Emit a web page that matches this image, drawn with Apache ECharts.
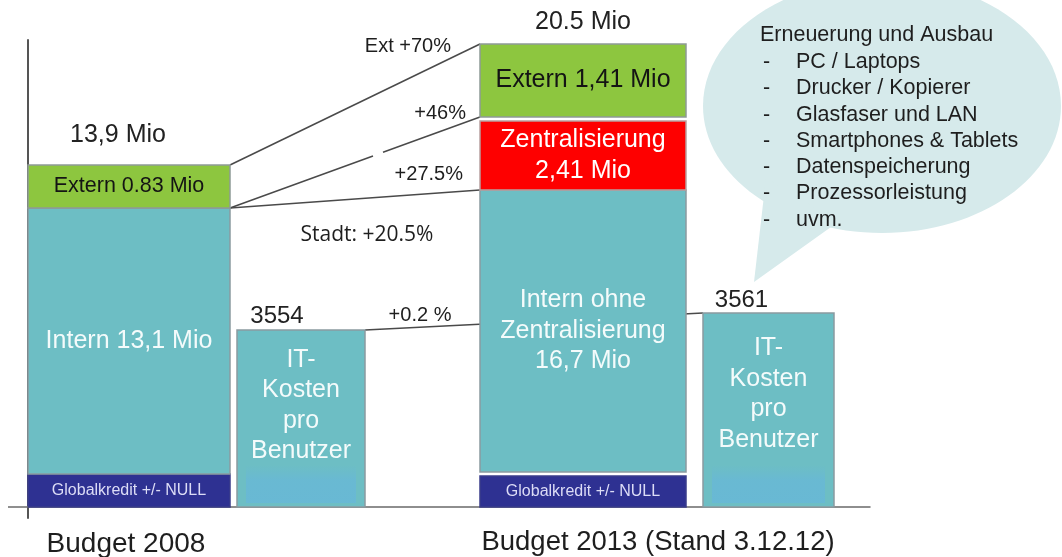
<!DOCTYPE html>
<html>
<head>
<meta charset="utf-8">
<script src="https://cdn.jsdelivr.net/npm/echarts@6/dist/echarts.min.js"></script>
<style>
  html, body { margin: 0; padding: 0; background: #fff; }
  #chart { width: 1062px; height: 557px; }
</style>
</head>
<body>
<div id="chart"></div>
<script>
// one entry per drawn column
var columns = ['Budget 2008', 'IT-Kosten 2008', 'Budget 2013', 'IT-Kosten 2013'];

// segment heights as drawn on the slide (not to scale with the Mio values)
var globalkredit = [33, 0, 31, 0];
var intern = [266, 177, 282, 194];
var zentralisierung = [0, 0, 69, 0];
var extern = [43, 0, 73, 0];

var globalLabels = ['Globalkredit +/- NULL', '', 'Globalkredit +/- NULL', ''];
var internLabels = ['Intern 13,1 Mio', 'IT-\nKosten\npro\nBenutzer', 'Intern ohne\nZentralisierung\n16,7 Mio', 'IT-\nKosten\npro\nBenutzer'];
var zentralLabels = ['', '', 'Zentralisierung\n2,41 Mio', ''];
var externLabels = ['Extern 0.83 Mio', '', 'Extern 1,41 Mio', ''];
var totalLabels = ['13,9 Mio', '3554', '20.5 Mio', '3561'];

var changeLabels = ['Ext +70%', '+46%', '+27.5%', 'Stadt: +20.5%', '+0.2 %'];
var groupLabels = ['Budget 2008', 'Budget 2013 (Stand 3.12.12)'];
var bubbleTitle = 'Erneuerung und Ausbau';
var bubbleItems = ['PC / Laptops', 'Drucker / Kopierer', 'Glasfaser und LAN',
  'Smartphones & Tablets', 'Datenspeicherung', 'Prozessorleistung', 'uvm.'];

var FONT = '"Liberation Sans", Arial, sans-serif';

// layout of the columns along the x axis (axis units)
var slots = [
  { x0: 0, x1: 202, gaps: [0, 0, 0, 0], dx: -11, dy: 30, shade: false },
  { x0: 209, x1: 337, gaps: [0, 0, 0, 0], dx: -24, dy: 14, shade: true, textDy: -13 },
  { x0: 452, x1: 658, gaps: [0, 4, 0, 4], dx: 0, dy: 22, shade: false },
  { x0: 675, x1: 806, gaps: [0, 0, 0, 0], dx: -27, dy: 13, shade: true, textDy: -16 }
];

var stack = [
  { values: globalkredit, labels: globalLabels, color: '#2e3192', stroke: '#3a3c8a',
    text: '#dcdcf6', font: '16px ' + FONT },
  { values: intern, labels: internLabels, color: '#6dbec4', stroke: '#8a9ba0',
    text: '#f4fbfb', font: '25px ' + FONT, lineHeight: 30.5 },
  { values: zentralisierung, labels: zentralLabels, color: '#fe0000', stroke: '#b8a0a0',
    text: '#ffffff', font: '25px ' + FONT, lineHeight: 31 },
  { values: extern, labels: externLabels, color: '#8dc63f', stroke: '#8f9a96',
    text: '#141414', font: null }
];
var externFonts = ['21.5px ' + FONT, '', '25px ' + FONT, ''];

// build the stacked segments and remember their levels
var segments = [];
var levels = [];
columns.forEach(function (name, i) {
  var y = 0;
  var lv = [];
  var last = -1;
  stack.forEach(function (s, k) {
    var h = s.values[i];
    if (!h) { lv.push(null); return; }
    y += slots[i].gaps[k];
    lv.push({ y0: y, y1: y + h });
    segments.push([i, y, y + h, k, 0]);
    y += h;
    last = segments.length - 1;
  });
  segments[last][4] = 1;
  levels.push(lv);
});

function renderSegment(params, api) {
  var i = api.value(0);
  var k = api.value(3);
  var isTop = api.value(4) === 1;
  var slot = slots[i];
  var s = stack[k];
  var p0 = api.coord([slot.x0, api.value(1)]);
  var p1 = api.coord([slot.x1, api.value(2)]);
  var w = p1[0] - p0[0];
  var h = p0[1] - p1[1];
  var children = [{
    type: 'rect',
    shape: { x: p0[0], y: p1[1], width: w, height: h },
    style: { fill: s.color, stroke: s.stroke, lineWidth: 1.5 },
    textContent: {
      style: {
        text: s.labels[i],
        fill: s.text,
        font: k === 3 ? externFonts[i] : s.font,
        lineHeight: s.lineHeight,
        align: 'center'
      }
    },
    textConfig: { position: 'inside', offset: [0, slot.textDy || 0] }
  }];
  if (slot.shade) {
    children.splice(1, 0, {
      type: 'rect',
      shape: { x: p0[0] + 9, y: p0[1] - 42, width: w - 18, height: 38 },
      style: {
        fill: new echarts.graphic.LinearGradient(0, 0, 0, 1, [
          { offset: 0, color: 'rgba(104,184,214,0)' },
          { offset: 0.4, color: 'rgba(104,184,214,0.8)' },
          { offset: 1, color: 'rgba(104,184,214,0.9)' }
        ])
      }
    });
  }
  if (isTop) {
    children.push({
      type: 'text',
      style: {
        text: totalLabels[i],
        x: (p0[0] + p1[0]) / 2 + slot.dx,
        y: p1[1] - slot.dy,
        fill: '#222',
        fontFamily: FONT,
        fontSize: i % 2 ? 24 : 25,
        align: 'center',
        verticalAlign: 'middle'
      }
    });
  }
  return { type: 'group', children: children };
}

// connector lines: [fromColumn, fromSegment, fromEdge, toColumn, toSegment, toEdge, gapStart, gapEnd]
var links = [
  [0, 3, 'y1', 2, 3, 'y1'],
  [0, 1, 'y1', 2, 3, 'y0', 0.572, 0.612],
  [0, 1, 'y1', 2, 1, 'y1'],
  [1, 1, 'y1', 3, 1, 'y1']
];

function renderLink(params, api) {
  var l = links[params.dataIndex];
  var a = api.coord([slots[l[0]].x1, levels[l[0]][l[1]][l[2]]]);
  var b = api.coord([slots[l[3]].x0, levels[l[3]][l[4]][l[5]]]);
  var style = { stroke: '#4a4a4a', lineWidth: 1.5 };
  function pt(t) { return [a[0] + (b[0] - a[0]) * t, a[1] + (b[1] - a[1]) * t]; }
  var parts = l[6] ? [[0, l[6]], [l[7], 1]] : [[0, 1]];
  return {
    type: 'group',
    children: parts.map(function (p) {
      var s = pt(p[0]), e = pt(p[1]);
      return { type: 'line', shape: { x1: s[0], y1: s[1], x2: e[0], y2: e[1] }, style: style };
    })
  };
}

var chart = echarts.init(document.getElementById('chart'));

var textStyle = function (text, x, y, size, align, font) {
  return {
    type: 'text',
    z: 10,
    style: {
      text: text, x: x, y: y, fill: '#1e1e1e',
      fontFamily: font || FONT,
      fontSize: size,
      align: align || 'left', verticalAlign: 'middle'
    }
  };
};

var graphics = [
  { type: 'ellipse', z: 0, shape: { cx: 882, cy: 106, rx: 179, ry: 127 }, style: { fill: '#d6eaeb' } },
  { type: 'polygon', z: 0, shape: { points: [[766, 178], [754, 282], [838, 222]] }, style: { fill: '#d6eaeb' } },
  { type: 'line', z: 5, shape: { x1: 8, y1: 507, x2: 28, y2: 507 }, style: { stroke: '#6a6a6a', lineWidth: 1.5 } },
  textStyle(changeLabels[0], 451, 46, 20, 'right'),
  textStyle(changeLabels[1], 466, 113, 20, 'right'),
  textStyle(changeLabels[2], 463, 174, 20, 'right'),
  textStyle(changeLabels[3], 367, 235, 21, 'center', '"Open Sans", sans-serif'),
  textStyle(changeLabels[4], 420, 315, 20, 'center'),
  textStyle(groupLabels[0], 126, 544, 28, 'center'),
  textStyle(groupLabels[1], 658, 542, 27.5, 'center'),
  textStyle(bubbleTitle, 760, 35, 21.5)
];
bubbleItems.forEach(function (item, j) {
  var y = 62 + j * 26.3;
  graphics.push(textStyle('-', 763, y, 21.5));
  graphics.push(textStyle(item, 796, y, 21.5));
});

chart.setOption({
  animation: false,
  grid: { left: 28, right: 192, top: 40, bottom: 39 },
  xAxis: {
    type: 'value', min: 0, max: 842,
    axisLine: { show: true, onZero: true, lineStyle: { color: '#6a6a6a', width: 1.5 } },
    axisTick: { show: false }, axisLabel: { show: false }, splitLine: { show: false }
  },
  yAxis: {
    type: 'value', min: -11, max: 467,
    axisLine: { show: true, lineStyle: { color: '#555', width: 2 } },
    axisTick: { show: false }, axisLabel: { show: false }, splitLine: { show: false }
  },
  graphic: graphics,
  series: [
    {
      type: 'custom', name: 'links', z: 1, silent: true,
      renderItem: renderLink,
      data: links.map(function (l, i) { return [i]; })
    },
    {
      type: 'custom', name: 'segments', z: 3, silent: true,
      renderItem: renderSegment,
      encode: { x: [], y: [1, 2] },
      data: segments
    }
  ]
});
</script>
</body>
</html>
